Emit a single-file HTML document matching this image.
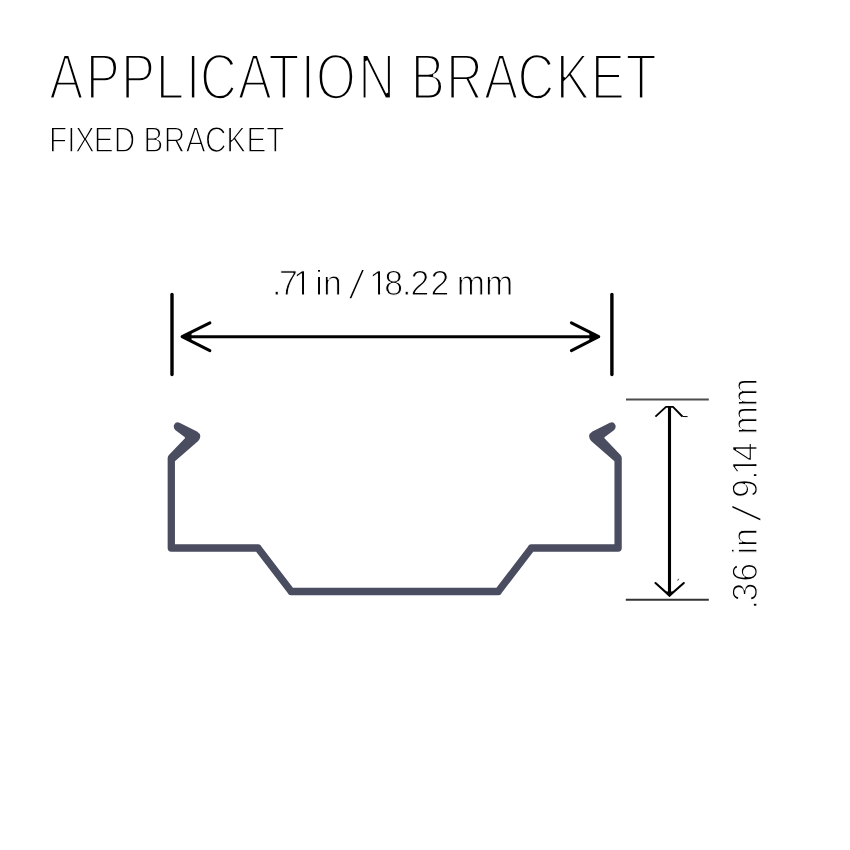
<!DOCTYPE html>
<html lang="en">
<head>
<meta charset="utf-8">
<title>Application Bracket - Fixed Bracket</title>
<style>
html,body{margin:0;padding:0;background:#fff;}
body{width:850px;height:850px;overflow:hidden;}
svg{display:block;will-change:transform;}
text{font-family:"Liberation Sans",Arial,Helvetica,sans-serif;white-space:pre;text-rendering:geometricPrecision;stroke-linejoin:miter;stroke-miterlimit:2;}
.t{filter:grayscale(1);}
</style>
</head>
<body>
<svg width="850" height="850" viewBox="0 0 850 850">
<rect width="850" height="850" fill="#fff"/>
<g id="title" class="t">
<g transform="scale(0.79,1)"><text x="62.27 108.47 153.03 197.31 235.31 253.23 300.81 339.61 380.63 400.02 453.57 500.33 519.99 564.58 612.77 655.01 703.33 747.77 791.63" y="98.55" font-size="64.75" fill="#000" stroke="#fff" stroke-width="2.9">APPLICATION BRACKET</text></g>
</g>
<g id="subtitle" class="t">
<g transform="scale(0.83,1)"><text x="59.06 81.16 90.35 113.05 137.03 162.95 172.98 197.24 223.81 246.87 272.48 297.03 320.73" y="151.8" font-size="35.9" fill="#000" stroke="#fff" stroke-width="1.35">FIXED BRACKET</text></g>
</g>
<g id="dim-width" fill="none" stroke="#000" stroke-linecap="round" stroke-linejoin="round">
<line x1="172" y1="294.4" x2="172" y2="374.6" stroke-width="3.4"/>
<line x1="611.9" y1="294.4" x2="611.9" y2="374.6" stroke-width="3.4"/>
<line x1="186" y1="336.7" x2="595" y2="336.7" stroke-width="3" stroke-linecap="butt"/>
<polyline points="209.9,322.8 182.1,336.7 209.9,350.6" stroke-width="3"/>
<polyline points="571.4,322.8 598.7,336.7 571.4,350.6" stroke-width="3"/>
<path d="M180.6 336.7 L191.5 331.6 L191.5 341.8 Z" fill="#000" stroke="none"/>
<path d="M600.3 336.7 L589.4 331.6 L589.4 341.8 Z" fill="#000" stroke="none"/>
</g>
<g id="dim-width-label" class="t">
<g transform="scale(0.96,1)"><text x="283.43 290.64 305.25 324.88 328.38 336.46" y="294.6" font-size="35.3" fill="#000" stroke="#fff" stroke-width="1.05">.71 in</text><rect x="306.3" y="291.13" width="8.33" height="4.47" fill="#fff"/><rect x="316.72" y="291.13" width="7.77" height="4.47" fill="#fff"/><rect x="314.88" y="290.63" width="1.59" height="3.45" fill="#000"/></g>
<text transform="scale(1.87019,1.14785)" x="185.64" y="260.59" font-size="36" fill="#000" stroke="#fff" stroke-width="1.81">/</text>
<g transform="scale(0.96,1)"><text x="384.46 400.39 418.74 427.63 448.47 468.1 475.91 505.08" y="294.6" font-size="35.3" fill="#000" stroke="#fff" stroke-width="1.05">18.22 mm</text><rect x="385.52" y="291.13" width="8.33" height="4.47" fill="#fff"/><rect x="395.94" y="291.13" width="7.77" height="4.47" fill="#fff"/><rect x="394.1" y="290.63" width="1.59" height="3.45" fill="#000"/></g>
</g>
<g id="dim-height" fill="none" stroke="#000" stroke-linecap="butt" stroke-linejoin="miter">
<line x1="626" y1="399.5" x2="708.8" y2="399.5" stroke="#4d4d4d" stroke-width="2"/>
<line x1="625.8" y1="599.8" x2="708.8" y2="599.8" stroke="#333" stroke-width="1.9"/>
<line x1="669.5" y1="407" x2="669.5" y2="595" stroke-width="3.1"/>
<path d="M655.4 416.6 L666 406.9 L673 406.9 L682.4 416.5" stroke-width="1.9" stroke-linejoin="round"/>
<path d="M682.4 416.5 L687.6 416.6" stroke-width="1"/>
<path d="M655.5 583 L669.5 595.6 L683.8 583" stroke-width="2.1" stroke-linecap="round"/>
<path d="M669.5 597 L664.2 591.4 L674.8 591.4 Z" fill="#000" stroke="none"/>
<path d="M677.7 580.6 L678.6 578.8" stroke-width="0.8"/>
</g>
<g id="dim-height-label" class="t">
<g transform="rotate(-90) scale(0.96,1)"><text x="-634.83 -626.64 -606.09 -586.34 -577.68 -569.74" y="756.8" font-size="35.5" fill="#000" stroke="#fff" stroke-width="1.25">.36 in</text></g>
<text transform="rotate(-90) scale(1.9146,1.13641)" x="-273.1" y="669.76" font-size="36" fill="#000" stroke="#fff" stroke-width="1.82">/</text>
<g transform="rotate(-90) scale(0.96,1)"><text x="-518.82 -499.72 -495.02 -480.54 -460.8 -452.61 -423.54" y="756.8" font-size="35.5" fill="#000" stroke="#fff" stroke-width="1.25">9.14 mm</text><rect x="-493.96" y="753.21" width="8.47" height="4.59" fill="#fff"/><rect x="-483.58" y="753.21" width="7.81" height="4.59" fill="#fff"/><rect x="-485.24" y="752.71" width="1.41" height="3.46" fill="#000"/></g>
</g>
<g id="bracket">
<path fill="#4a4c60" fill-rule="nonzero" d="M174.95 460 L174.95 548 L167.65 548 L167.65 460 Z
M171.3 544.35 L257.9 544.35 L257.9 551.65 L171.3 551.65 Z
M260.8 545.78 L294.1 589.28 L288.3 593.72 L255 550.22 Z
M291.2 587.85 L498.2 587.85 L498.2 595.15 L291.2 595.15 Z
M495.3 589.28 L528.6 545.78 L534.4 550.22 L501.1 593.72 Z
M531.5 544.35 L618.1 544.35 L618.1 551.65 L531.5 551.65 Z
M614.45 548 L614.45 460 L621.75 460 L621.75 548 Z
M167.65 548 A3.65 3.65 0 1 1 174.95 548 A3.65 3.65 0 1 1 167.65 548 Z
M254.25 548 A3.65 3.65 0 1 1 261.55 548 A3.65 3.65 0 1 1 254.25 548 Z
M287.55 591.5 A3.65 3.65 0 1 1 294.85 591.5 A3.65 3.65 0 1 1 287.55 591.5 Z
M494.55 591.5 A3.65 3.65 0 1 1 501.85 591.5 A3.65 3.65 0 1 1 494.55 591.5 Z
M527.85 548 A3.65 3.65 0 1 1 535.15 548 A3.65 3.65 0 1 1 527.85 548 Z
M614.45 548 A3.65 3.65 0 1 1 621.75 548 A3.65 3.65 0 1 1 614.45 548 Z
M167.65 468 L167.65 458 Q167.65 456.4 168.9 455.1 L184.7 438.6 Q185.5 437.8 184.6 437.1 L175.2 429.9 Q172.8 427.2 174.3 424.4 Q175.8 421.4 179.5 422.7 L197 431.4 Q200.6 433.6 200.3 436.6 Q200.1 439 198.2 440.9 L174.95 461.3 L174.95 468 Z
M614.45 468 L614.45 461.3 L591.2 440.9 Q589.3 439 589.1 436.6 Q588.8 433.6 592.4 431.4 L609.9 422.7 Q613.6 421.4 615.1 424.4 Q616.6 427.2 614.2 429.9 L604.8 437.1 Q603.9 437.8 604.7 438.6 L620.5 455.1 Q621.75 456.4 621.75 458 L621.75 468 Z"/>
</g>
</svg>
</body>
</html>
